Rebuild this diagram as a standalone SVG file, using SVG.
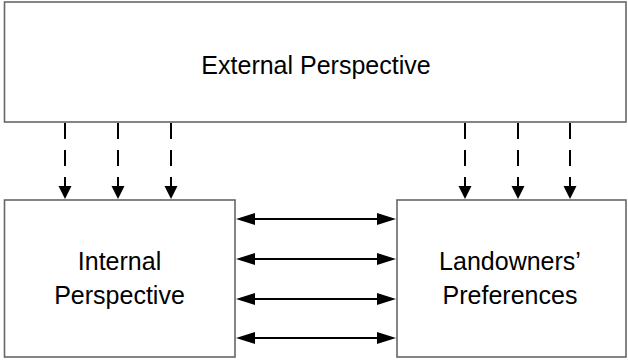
<svg xmlns="http://www.w3.org/2000/svg" width="628" height="361" viewBox="0 0 628 361">
  <style>
    .box { fill: #ffffff; stroke: #666666; stroke-width: 1.6; }
    .label { font-family: "Liberation Sans", Arial, sans-serif; font-size: 25px; fill: #000000; text-anchor: middle; }
    .influence { stroke: #000000; stroke-width: 2; stroke-dasharray: 16 11; fill: none; marker-end: url(#headDown); }
    .exchange { stroke: #000000; stroke-width: 2; fill: none; marker-start: url(#headSide); marker-end: url(#headSide); }
  </style>
  <defs>
    <marker id="headDown" markerUnits="userSpaceOnUse" markerWidth="13" markerHeight="13" refX="0" refY="6.5" orient="auto" overflow="visible">
      <path d="M0,0 L13,6.5 L0,13 Z" fill="#000000"/>
    </marker>
    <marker id="headSide" markerUnits="userSpaceOnUse" markerWidth="19" markerHeight="12" refX="0" refY="6" orient="auto-start-reverse" overflow="visible">
      <path d="M0,0 L19,6 L0,12 Z" fill="#000000"/>
    </marker>
  </defs>

  <rect width="628" height="361" fill="#ffffff"/>

  <g id="external-perspective">
    <rect class="box" x="4.5" y="2" width="621.5" height="120"/>
    <text class="label" x="316" y="74">External Perspective</text>
  </g>

  <g id="internal-perspective">
    <rect class="box" x="4.5" y="200" width="230.5" height="157"/>
    <text class="label" x="119.5" y="270">Internal</text>
    <text class="label" x="119.5" y="304">Perspective</text>
  </g>

  <g id="landowners-preferences">
    <rect class="box" x="397" y="200" width="229" height="157"/>
    <text class="label" x="510" y="270">Landowners’</text>
    <text class="label" x="510" y="304">Preferences</text>
  </g>

  <g id="connectors">
    <line class="influence" x1="65" y1="123" x2="65" y2="186"/>
    <line class="influence" x1="118" y1="123" x2="118" y2="186"/>
    <line class="influence" x1="171" y1="123" x2="171" y2="186"/>
    <line class="influence" x1="465" y1="123" x2="465" y2="186"/>
    <line class="influence" x1="518" y1="123" x2="518" y2="186"/>
    <line class="influence" x1="570" y1="123" x2="570" y2="186"/>

    <line class="exchange" x1="255" y1="219" x2="377" y2="219"/>
    <line class="exchange" x1="255" y1="259" x2="377" y2="259"/>
    <line class="exchange" x1="255" y1="299" x2="377" y2="299"/>
    <line class="exchange" x1="255" y1="338" x2="377" y2="338"/>
  </g>
</svg>
